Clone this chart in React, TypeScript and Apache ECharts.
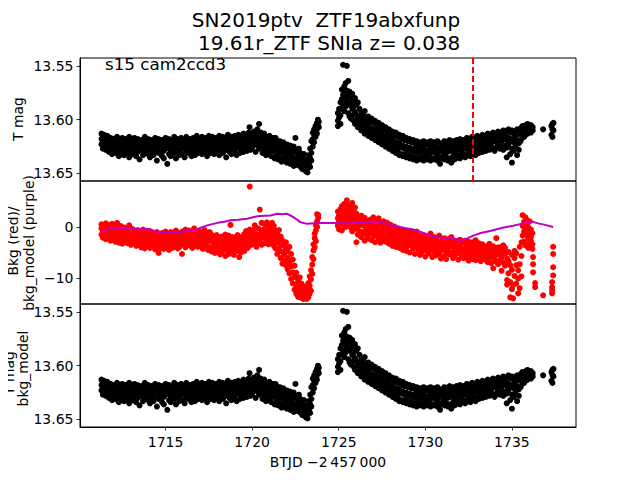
import React, { useEffect, useRef } from "react";
import * as echarts from "echarts";

// ---------- data ----------
const titleText = "SN2019ptv  ZTF19abxfunp\n 19.61r_ZTF SNIa z= 0.038";
const sectorLabel = "s15 cam2ccd3";
const xAxisLabel = "BTJD \u22122\u2009457\u2009000";

const xTicks = [1715, 1720, 1725, 1730, 1735];
const magTicks = [13.55, 13.6, 13.65];
const bkgTicks = [-10, 0];
const markerTime = 1732.73;

// rows: [time, mag, mag, ...]
const tMagOrbit1: number[][] = [
  [1711.3, 13.613, 13.618, 13.623], [1711.38, 13.616, 13.621, 13.627], [1711.46, 13.614, 13.624],
  [1711.55, 13.617, 13.62, 13.628], [1711.64, 13.615, 13.622, 13.626], [1711.73, 13.619, 13.625, 13.63],
  [1711.82, 13.617, 13.621], [1711.91, 13.62, 13.627, 13.632], [1712.0, 13.618, 13.623, 13.629],
  [1712.1, 13.622, 13.626, 13.631], [1712.2, 13.616, 13.624], [1712.3, 13.619, 13.628, 13.634],
  [1712.4, 13.621, 13.625, 13.63], [1712.5, 13.617, 13.623, 13.627], [1712.6, 13.62, 13.629, 13.633],
  [1712.7, 13.618, 13.622, 13.626], [1712.8, 13.621, 13.627, 13.631], [1712.9, 13.616, 13.624, 13.635],
  [1713.0, 13.619, 13.626, 13.629], [1713.1, 13.622, 13.625, 13.632], [1713.2, 13.617, 13.621, 13.628],
  [1713.3, 13.62, 13.627, 13.634], [1713.4, 13.618, 13.623, 13.63], [1713.5, 13.621, 13.626, 13.637],
  [1713.6, 13.619, 13.624, 13.628], [1713.7, 13.622, 13.629, 13.633], [1713.8, 13.616, 13.625, 13.631],
  [1713.9, 13.62, 13.623, 13.627], [1714.0, 13.618, 13.628, 13.632], [1714.1, 13.621, 13.626, 13.635],
  [1714.2, 13.619, 13.624, 13.63], [1714.3, 13.623, 13.627, 13.633], [1714.4, 13.617, 13.622, 13.629],
  [1714.5, 13.62, 13.628, 13.638], [1714.6, 13.618, 13.625, 13.631], [1714.7, 13.622, 13.626, 13.63],
  [1714.8, 13.619, 13.624, 13.634], [1714.9, 13.621, 13.629, 13.636], [1715.0, 13.617, 13.623, 13.627],
  [1715.1, 13.62, 13.626, 13.641], [1715.2, 13.618, 13.625, 13.632], [1715.3, 13.622, 13.628, 13.634],
  [1715.4, 13.619, 13.623, 13.629], [1715.5, 13.616, 13.627, 13.631], [1715.6, 13.621, 13.625, 13.636],
  [1715.7, 13.618, 13.622, 13.63], [1715.8, 13.62, 13.628, 13.633], [1715.9, 13.617, 13.624, 13.627],
  [1716.0, 13.622, 13.626, 13.632], [1716.1, 13.619, 13.623, 13.635], [1716.2, 13.616, 13.625, 13.629],
  [1716.3, 13.62, 13.627, 13.631], [1716.4, 13.618, 13.622, 13.628], [1716.5, 13.621, 13.626, 13.634],
  [1716.6, 13.617, 13.624, 13.63], [1716.7, 13.619, 13.628, 13.633], [1716.8, 13.615, 13.621, 13.627],
  [1716.9, 13.62, 13.625, 13.631], [1717.0, 13.618, 13.623, 13.629], [1717.1, 13.616, 13.626, 13.632],
  [1717.2, 13.619, 13.622, 13.628], [1717.3, 13.617, 13.625, 13.63], [1717.4, 13.62, 13.624, 13.634],
  [1717.5, 13.615, 13.621, 13.627], [1717.6, 13.618, 13.626, 13.631], [1717.7, 13.616, 13.623, 13.629],
  [1717.8, 13.619, 13.625, 13.632], [1717.9, 13.617, 13.621, 13.628], [1718.0, 13.62, 13.627, 13.63],
  [1718.1, 13.615, 13.624, 13.633], [1718.2, 13.618, 13.622, 13.627], [1718.3, 13.616, 13.625, 13.631],
  [1718.4, 13.619, 13.623, 13.629], [1718.5, 13.617, 13.626, 13.635], [1718.6, 13.614, 13.62, 13.628],
  [1718.7, 13.618, 13.624, 13.63], [1718.8, 13.616, 13.622, 13.632], [1718.9, 13.619, 13.625, 13.627],
  [1719.0, 13.615, 13.621, 13.629], [1719.1, 13.617, 13.624, 13.633], [1719.2, 13.614, 13.62, 13.626],
  [1719.3, 13.618, 13.623, 13.631], [1719.4, 13.616, 13.625, 13.628], [1719.5, 13.613, 13.619, 13.63],
  [1719.6, 13.617, 13.622, 13.627], [1719.7, 13.615, 13.62, 13.629], [1719.8, 13.612, 13.618, 13.625],
  [1719.85, 13.607], [1719.9, 13.616, 13.621, 13.628], [1720.0, 13.614, 13.619, 13.626],
  [1720.1, 13.611, 13.617, 13.623], [1720.2, 13.613, 13.62, 13.63], [1720.3, 13.609, 13.616, 13.624],
  [1720.4, 13.604, 13.618, 13.627], [1720.5, 13.612, 13.621, 13.625], [1720.6, 13.615, 13.619, 13.631],
  [1720.7, 13.613, 13.623, 13.628], [1720.8, 13.616, 13.621, 13.633], [1720.9, 13.618, 13.625, 13.63],
  [1721.0, 13.615, 13.622, 13.632], [1721.1, 13.619, 13.627, 13.634], [1721.2, 13.617, 13.624, 13.629],
  [1721.3, 13.621, 13.626, 13.636], [1721.35, 13.617], [1721.4, 13.619, 13.628, 13.633],
  [1721.5, 13.622, 13.626, 13.637], [1721.6, 13.62, 13.63, 13.635], [1721.7, 13.624, 13.628, 13.639],
  [1721.8, 13.621, 13.631, 13.636], [1721.9, 13.625, 13.629, 13.638], [1722.0, 13.623, 13.633, 13.64],
  [1722.1, 13.626, 13.63, 13.637], [1722.2, 13.624, 13.634, 13.641], [1722.3, 13.628, 13.632, 13.639],
  [1722.4, 13.625, 13.636, 13.643], [1722.5, 13.617, 13.63, 13.638], [1722.6, 13.629, 13.635, 13.642],
  [1722.7, 13.627, 13.633, 13.64], [1722.8, 13.631, 13.638, 13.644], [1722.9, 13.634, 13.641, 13.646],
  [1723.0, 13.632, 13.639, 13.645], [1723.1, 13.637, 13.643, 13.648], [1723.2, 13.64, 13.645, 13.649],
  [1723.28, 13.633, 13.641], [1723.35, 13.627, 13.636, 13.644], [1723.42, 13.62, 13.631, 13.638],
  [1723.5, 13.612, 13.618, 13.625], [1723.58, 13.609, 13.614, 13.621], [1723.66, 13.606, 13.611, 13.616],
  [1723.74, 13.603, 13.609, 13.613], [1723.8, 13.6, 13.605], [1723.85, 13.602, 13.607],
];

const tMagOrbit2: number[][] = [
  [1724.95, 13.594, 13.601, 13.606], [1725.02, 13.59, 13.598], [1725.1, 13.584, 13.596, 13.604],
  [1725.18, 13.572, 13.581, 13.59], [1725.25, 13.549, 13.577, 13.586], [1725.32, 13.569, 13.575, 13.592],
  [1725.4, 13.566, 13.58, 13.588], [1725.47, 13.55, 13.573, 13.583], [1725.55, 13.564, 13.578, 13.594],
  [1725.62, 13.574, 13.586, 13.597], [1725.7, 13.579, 13.584, 13.599], [1725.78, 13.576, 13.59, 13.596],
  [1725.86, 13.582, 13.588, 13.601], [1725.94, 13.58, 13.593, 13.604], [1726.02, 13.586, 13.596, 13.603],
  [1726.1, 13.584, 13.598, 13.607], [1726.2, 13.59, 13.601, 13.606], [1726.3, 13.594, 13.599, 13.61],
  [1726.4, 13.596, 13.604, 13.609], [1726.5, 13.592, 13.602, 13.613], [1726.6, 13.599, 13.607, 13.611],
  [1726.7, 13.597, 13.605, 13.615], [1726.8, 13.601, 13.61, 13.614], [1726.9, 13.599, 13.608, 13.617],
  [1727.0, 13.603, 13.612, 13.616], [1727.1, 13.601, 13.609, 13.619], [1727.2, 13.605, 13.614, 13.618],
  [1727.3, 13.603, 13.611, 13.621], [1727.4, 13.607, 13.616, 13.62], [1727.5, 13.605, 13.613, 13.623],
  [1727.6, 13.609, 13.618, 13.622], [1727.7, 13.607, 13.615, 13.625], [1727.8, 13.611, 13.62, 13.624],
  [1727.9, 13.609, 13.617, 13.627], [1728.0, 13.613, 13.621, 13.626], [1728.1, 13.611, 13.619, 13.629],
  [1728.2, 13.615, 13.623, 13.628], [1728.3, 13.612, 13.621, 13.631], [1728.4, 13.616, 13.625, 13.63],
  [1728.5, 13.614, 13.622, 13.633], [1728.6, 13.618, 13.626, 13.632], [1728.7, 13.615, 13.624, 13.634],
  [1728.8, 13.619, 13.627, 13.632], [1728.9, 13.617, 13.625, 13.635], [1729.0, 13.62, 13.628, 13.633],
  [1729.1, 13.618, 13.626, 13.636], [1729.2, 13.621, 13.629, 13.634], [1729.3, 13.619, 13.627, 13.637],
  [1729.4, 13.622, 13.63, 13.635], [1729.5, 13.62, 13.626, 13.638], [1729.6, 13.623, 13.631, 13.636],
  [1729.7, 13.621, 13.628, 13.637], [1729.8, 13.624, 13.63, 13.635], [1729.9, 13.62, 13.627, 13.638],
  [1730.0, 13.623, 13.632, 13.636], [1730.1, 13.621, 13.629, 13.637], [1730.2, 13.624, 13.628, 13.635],
  [1730.3, 13.62, 13.631, 13.638], [1730.4, 13.623, 13.627, 13.636], [1730.5, 13.621, 13.63, 13.637],
  [1730.6, 13.624, 13.628, 13.635], [1730.7, 13.62, 13.632, 13.638], [1730.85, 13.626, 13.641],
  [1730.9, 13.622, 13.629, 13.636], [1731.0, 13.624, 13.627, 13.634], [1731.1, 13.62, 13.631, 13.637],
  [1731.2, 13.623, 13.628, 13.635], [1731.3, 13.621, 13.63, 13.638], [1731.4, 13.619, 13.626, 13.636],
  [1731.5, 13.622, 13.629, 13.64], [1731.6, 13.62, 13.627, 13.634], [1731.7, 13.623, 13.63, 13.637],
  [1731.8, 13.619, 13.625, 13.635], [1731.9, 13.621, 13.628, 13.633], [1732.0, 13.618, 13.626, 13.636],
  [1732.1, 13.622, 13.629, 13.634], [1732.2, 13.619, 13.624, 13.632], [1732.3, 13.621, 13.627, 13.635],
  [1732.4, 13.617, 13.625, 13.633], [1732.5, 13.62, 13.628, 13.631], [1732.6, 13.618, 13.623, 13.634],
  [1732.7, 13.616, 13.626, 13.632], [1732.8, 13.619, 13.624, 13.63], [1732.9, 13.617, 13.622, 13.633],
  [1733.0, 13.615, 13.625, 13.629], [1733.1, 13.618, 13.621, 13.631], [1733.2, 13.616, 13.624, 13.628],
  [1733.3, 13.614, 13.622, 13.63], [1733.4, 13.617, 13.62, 13.627], [1733.5, 13.615, 13.623, 13.629],
  [1733.6, 13.613, 13.621, 13.626], [1733.7, 13.616, 13.619, 13.628], [1733.8, 13.614, 13.622, 13.625],
  [1733.9, 13.612, 13.62, 13.627], [1734.0, 13.615, 13.618, 13.629], [1734.1, 13.613, 13.621, 13.626],
  [1734.2, 13.611, 13.619, 13.624], [1734.3, 13.614, 13.617, 13.627], [1734.4, 13.612, 13.62, 13.625],
  [1734.5, 13.61, 13.618, 13.628], [1734.6, 13.613, 13.616, 13.624], [1734.7, 13.611, 13.619, 13.626, 13.635],
  [1734.8, 13.609, 13.617, 13.623], [1734.9, 13.612, 13.62, 13.632], [1735.0, 13.61, 13.618, 13.627, 13.64],
  [1735.1, 13.613, 13.621, 13.629], [1735.2, 13.611, 13.616, 13.625], [1735.3, 13.609, 13.619, 13.633],
  [1735.4, 13.612, 13.622, 13.628], [1735.5, 13.608, 13.614, 13.62], [1735.6, 13.606, 13.611, 13.617],
  [1735.7, 13.607, 13.613, 13.616], [1735.8, 13.605, 13.609, 13.614], [1735.9, 13.604, 13.61, 13.613],
  [1736.0, 13.606, 13.611], [1736.1, 13.605, 13.609, 13.612], [1736.2, 13.607, 13.61], [1736.8, 13.609],
  [1737.28, 13.606, 13.614], [1737.34, 13.604, 13.609, 13.616], [1737.4, 13.603, 13.61],
];

// the background-corrected magnitude looks the same as T mag in the reference
const correctedOrbit1 = tMagOrbit1;
const correctedOrbit2 = tMagOrbit2;

// rows: [time, bkg, bkg, ...]
const bkgOrbit1: number[][] = [
  [1711.3, -1.4, -0.2, 0.6], [1711.38, -0.8, -2.0], [1711.46, -1.6, 0.3, -0.5], [1711.55, -1.1, -2.3, 0.8],
  [1711.64, -0.4, -1.7, 0.1], [1711.73, -1.9, -0.9, 0.5], [1711.82, -0.2, -1.3, -2.6], [1711.91, -1.0, 0.7, -1.8],
  [1712.0, -2.1, -0.6, 0.2], [1712.1, -1.5, -0.1, -2.8], [1712.2, -0.8, -2.2, 0.9], [1712.3, -1.8, -0.4, -3.0],
  [1712.4, -2.5, -1.1, 0.3], [1712.5, -0.7, -1.9, -3.2], [1712.6, -2.7, -1.3, 0.0], [1712.7, -1.6, -0.5, -2.4],
  [1712.8, -3.1, -2.0, -0.8], [1712.9, -1.2, -2.6, 0.4], [1713.0, -2.3, -3.4, -0.9], [1713.1, -1.4, -0.3, -2.8],
  [1713.2, -3.0, -1.8, -0.6], [1713.3, -2.1, -3.6, -1.0], [1713.4, -0.5, -2.5, -1.5], [1713.5, -3.3, -1.9, -0.8],
  [1713.6, -2.4, -1.2, -3.9], [1713.7, -1.6, -3.0, -0.4], [1713.8, -2.8, -4.1, -1.3], [1713.9, -1.9, -0.9, -3.3],
  [1714.0, -3.6, -2.2, -1.1], [1714.1, -2.6, -4.0, -0.7], [1714.2, -1.5, -3.2, -2.1], [1714.3, -3.8, -2.4, -1.2],
  [1714.4, -2.9, -1.6, -4.3], [1714.5, -2.0, -3.5, -0.9], [1714.6, -5.0, -2.7, -1.4], [1714.7, -3.1, -1.8, -4.0],
  [1714.8, -2.3, -3.7, -1.1], [1714.9, -1.5, -4.2, -2.8], [1715.0, -3.4, -2.1, -0.8], [1715.1, -2.5, -3.9, -1.6],
  [1715.2, -4.4, -1.9, -3.0], [1715.3, -2.2, -3.3, -0.9], [1715.4, -1.4, -2.8, -4.0], [1715.5, -3.6, -2.4, -1.1],
  [1715.6, -2.0, -3.1, -0.6], [1715.7, -4.1, -1.7, -2.6], [1715.8, -2.9, -3.8, -1.3], [1715.95, -5.2, -2.2, -0.8],
  [1716.05, -3.3, -1.5, -2.7], [1716.15, -2.0, -3.9, -0.4], [1716.25, -1.2, -2.8, -3.5], [1716.35, -3.0, -0.6, -2.1],
  [1716.45, -1.8, -3.6, -0.9], [1716.55, -2.5, -1.3, -4.0], [1716.65, -3.4, -0.2, -2.0], [1716.75, -1.6, -2.9, -0.7],
  [1716.85, -3.8, -2.3, -1.1], [1716.95, -2.6, -0.8, -3.3], [1717.05, -1.9, -3.7, -1.0], [1717.15, -3.2, -2.2, -4.2],
  [1717.25, -1.3, -2.7, -0.5], [1717.35, -3.5, -1.8, -2.9], [1717.45, -2.4, -4.4, -1.2], [1717.55, -3.9, -2.0, -0.9],
  [1717.65, -2.8, -1.4, -4.7], [1717.75, -4.2, -3.0, -1.7], [1717.85, -2.1, -3.6, -5.0], [1717.95, -3.3, -1.5, -4.1],
  [1718.05, -4.6, -2.6, -1.9], [1718.15, -3.0, -5.3, -2.2], [1718.25, -1.8, -3.9, -4.8], [1718.35, -4.3, -2.5, -3.4],
  [1718.45, -2.9, -5.6, -1.4], [1718.55, -3.7, -2.2, -4.5], [1718.65, -5.2, -3.1, -1.6], [1718.75, -2.6, -4.0, 0.5],
  [1718.85, -4.7, -3.3, -1.9], [1718.95, -3.5, -5.4, -2.4], [1719.05, -2.1, -4.1, -3.0], [1719.15, -4.6, -2.8, -1.5],
  [1719.25, -3.3, -5.8, -2.2], [1719.35, -1.9, -3.8, -4.9], [1719.45, -4.2, -2.5, -3.1], [1719.55, -2.8, -1.3, -4.6],
  [1719.65, -3.6, -2.0, -0.7], [1719.75, -1.6, -3.1, -4.0], [1719.86, 8.0, -2.3, -0.4], [1719.95, -3.4, -1.1, -2.5],
  [1720.05, -0.6, -2.8, -1.7], [1720.15, -3.2, -1.9, 0.4], [1720.25, -1.3, -3.8, -2.4], [1720.35, -0.2, -2.2, -3.0],
  [1720.44, 3.5, -1.5, -2.7], [1720.55, -0.9, 0.9, -3.4], [1720.65, -2.0, -0.4, -1.3], [1720.75, -3.1, 0.6, -1.8],
  [1720.85, -0.7, -2.5, 1.0], [1720.95, -1.6, -3.3, 0.2], [1721.05, -0.3, -2.1, -1.2], [1721.15, -2.8, 0.9, -1.5],
  [1721.25, -1.0, -3.6, 0.3], [1721.35, -2.2, -0.6, -4.1], [1721.45, -1.4, -3.0, -5.2], [1721.55, -0.5, -2.4, -4.4],
  [1721.65, -3.6, -6.0, -1.8], [1721.75, -2.6, -4.8, -7.1], [1721.85, -5.3, -3.4, -6.5], [1721.95, -4.1, -7.4, -2.9],
  [1722.05, -6.0, -4.7, -8.2], [1722.15, -3.8, -6.8, -9.0], [1722.25, -7.6, -5.2, -10.1], [1722.35, -8.8, -6.3, -11.0],
  [1722.45, -9.7, -7.5, -12.2], [1722.55, -11.3, -8.9, -13.0], [1722.65, -10.4, -12.6, -13.6],
  [1722.75, -11.8, -13.2, -9.8], [1722.85, -12.9, -13.8, -11.0], [1722.95, -13.5, -12.3, -14.0],
  [1723.05, -13.9, -12.8, -11.6], [1723.15, -13.2, -14.0, -12.1], [1723.25, -12.5, -13.7, -10.9],
  [1723.32, -11.4, -13.0, -9.6], [1723.4, -10.2, -8.4, -12.4], [1723.47, -7.3, -9.1, -5.8],
  [1723.54, -4.5, -6.2, -3.3], [1723.61, -2.1, -3.9, -1.2], [1723.68, -0.6, 0.4, -2.7],
  [1723.75, 1.2, 2.6, 0.1], [1723.82, 1.9, 2.4],
];

const bkgOrbit2: number[][] = [
  [1724.95, 0.3, 1.8, 3.1], [1725.02, -0.4, 2.4, 1.1], [1725.1, 0.9, 3.6, 2.0], [1725.18, 1.6, -0.6, 4.2],
  [1725.25, 2.8, 0.5, 3.7], [1725.32, 1.2, 4.6, 2.3], [1725.4, 3.3, 0.1, 1.9], [1725.47, 5.3, 2.6, 4.1],
  [1725.55, 0.8, 3.4, 2.0], [1725.62, 4.4, 1.5, 2.9], [1725.7, 0.0, 3.8, 1.9], [1725.78, 2.5, -0.8, 4.8],
  [1725.86, 1.3, 3.1, 0.4], [1725.94, 2.2, -0.3, 3.9], [1726.02, -2.9, 1.0, 2.7], [1726.1, 0.3, 2.1, -1.4],
  [1726.2, 1.6, -0.7, 0.8], [1726.3, -1.9, 0.5, 2.3], [1726.4, 0.9, -0.9, 1.4], [1726.5, -2.6, 0.2, 1.9],
  [1726.6, 1.1, -1.5, -0.2], [1726.7, -0.6, 0.7, -2.2], [1726.8, 1.5, -1.1, 0.3], [1726.9, -0.4, -2.5, 1.0],
  [1727.0, 0.8, -1.7, 2.0], [1727.1, -0.9, 0.4, -2.9], [1727.2, 1.3, -0.5, -1.6], [1727.3, -2.2, 0.2, 1.8],
  [1727.4, -0.8, -3.0, 0.9], [1727.5, 0.6, -1.4, -2.4], [1727.6, -1.9, 0.0, 1.2], [1727.7, -0.5, -2.8, 0.4],
  [1727.8, -2.3, -1.1, 0.9], [1727.9, -0.3, -3.2, -1.6], [1728.0, -2.0, 0.5, -1.0], [1728.1, -3.6, -0.8, -2.4],
  [1728.2, -1.3, -2.9, 0.2], [1728.3, -3.8, -1.9, -0.6], [1728.4, -2.5, -0.2, -3.3], [1728.5, -1.1, -4.0, -2.0],
  [1728.6, -3.0, -0.9, -1.7], [1728.7, -2.2, -4.4, -0.5], [1728.8, -1.5, -3.5, -2.7], [1728.9, -3.9, -1.2, -4.6],
  [1729.0, -2.4, -0.7, -3.2], [1729.1, -1.8, -4.9, -2.9], [1729.2, -3.6, -2.0, -0.9], [1729.3, -2.6, -4.1, -1.4],
  [1729.4, -5.2, -3.0, -1.9], [1729.5, -2.1, -3.8, -0.8], [1729.6, -4.4, -2.7, -1.6], [1729.7, -3.2, -5.4, -2.2],
  [1729.8, -1.7, -3.9, -4.8], [1729.9, -4.2, -2.5, -3.4], [1730.0, -2.9, -5.7, -1.8], [1730.1, -3.7, -2.2, -4.6],
  [1730.2, -5.1, -3.1, -2.0], [1730.3, -2.6, -4.3, -1.2], [1730.4, -3.5, -5.8, -2.4], [1730.5, -4.7, -3.0, -1.9],
  [1730.6, -2.3, -4.1, -5.5], [1730.7, -3.8, -2.7, -4.9], [1730.8, -5.2, -3.3, -1.6], [1730.9, -2.9, -4.5, -6.1],
  [1731.0, -4.0, -2.4, -3.6], [1731.1, -5.6, -3.2, -2.1], [1731.2, -3.1, -4.8, -6.2], [1731.3, -4.4, -2.8, -3.9],
  [1731.4, -2.2, -5.3, -3.4], [1731.5, -4.9, -3.7, -1.9], [1731.6, -3.3, -6.0, -2.6], [1731.7, -5.5, -4.2, -3.0],
  [1731.8, -2.7, -3.8, -5.1], [1731.9, -4.6, -6.3, -3.2], [1732.0, -3.5, -2.4, -5.0], [1732.1, -5.8, -4.1, -2.9],
  [1732.2, -3.0, -4.7, -6.0], [1732.3, -4.3, -2.6, -5.4], [1732.4, -5.9, -3.6, -4.5], [1732.5, -2.8, -5.1, -6.5],
  [1732.6, -4.0, -3.2, -5.7], [1732.7, -6.2, -4.6, -2.9], [1732.8, -3.4, -5.3, -4.1], [1732.9, -4.9, -6.4, -2.5],
  [1733.0, -3.7, -5.0, -6.0], [1733.1, -5.5, -4.2, -3.1], [1733.2, -3.9, -6.6, -4.8], [1733.3, -5.2, -3.3, -6.1],
  [1733.4, -4.5, -5.8, -3.8], [1733.5, -6.3, -4.0, -5.1], [1733.6, -3.6, -5.4, -6.8], [1733.7, -4.8, -6.0, -3.2],
  [1733.8, -5.6, -4.3, -7.0], [1733.92, -8.0, -5.0, -3.7], [1734.0, -6.2, -4.6, -5.5], [1734.1, -4.1, -6.7, -2.1],
  [1734.2, -5.3, -3.9, -7.2], [1734.3, -6.5, -4.4, -5.0], [1734.4, -3.8, -8.5, -5.9], [1734.5, -6.9, -4.7, -3.5],
  [1734.6, -5.2, -7.5, -4.0], [1734.72, -10.3, -6.1, -11.2], [1734.8, -4.8, -9.0, -6.6],
  [1734.9, -13.7, -7.4, -10.7], [1735.0, -5.4, -12.1, -8.3], [1735.07, -13.9, -11.3], [1735.15, -6.0, -9.5, -4.6],
  [1735.25, -7.4, -11.0, -5.1], [1735.36, -12.9, -10.0, -8.4], [1735.45, -11.9, -7.2, -3.8],
  [1735.55, -9.6, -5.6, -2.9], [1735.62, 2.4, 0.3, -1.6], [1735.7, 1.1, -0.8, -2.8], [1735.78, 2.0, -0.2, -3.5],
  [1735.86, 0.6, -1.5, 1.4], [1735.94, -2.2, 0.0, -4.0], [1736.02, -0.9, 1.2, -3.1], [1736.1, -1.8, -0.4, -2.6],
  [1736.18, -3.3, -1.1, -4.2], [1736.22, -5.8, -7.2, -8.8], [1736.34, -10.9, -11.7], [1736.8, -13.3],
  [1737.32, -10.7, -11.7, -12.3, -12.9], [1737.38, -3.8, -5.2, -7.8, -9.4],
];

const bkgModel: number[][] = [
  [1711.35, -0.6], [1711.8, -0.3], [1712.4, 0.0], [1712.9, -0.2], [1713.4, -0.4], [1713.95, -0.3],
  [1714.5, -0.8], [1715.1, -1.05], [1715.5, -1.0], [1715.9, -0.8], [1716.4, -0.6], [1716.85, -0.3],
  [1717.4, 0.4], [1718.0, 0.9], [1718.4, 1.1], [1718.75, 1.4], [1719.2, 1.5], [1719.7, 1.7],
  [1720.3, 2.2], [1720.7, 2.3], [1721.06, 2.35], [1721.45, 2.7], [1721.7, 2.6], [1722.0, 2.7],
  [1722.4, 2.0], [1722.8, 1.0], [1723.17, 0.7], [1723.6, 0.8], [1724.1, 0.85], [1724.7, 0.85],
  [1725.2, 0.8], [1725.67, 0.8], [1726.2, 0.9], [1726.7, 1.0], [1727.2, 1.15], [1727.7, 0.8],
  [1728.27, 0.3], [1728.8, -0.1], [1729.3, -0.4], [1729.9, -1.1], [1730.46, -1.8], [1731.0, -2.0],
  [1731.5, -2.0], [1732.0, -2.5], [1732.4, -2.2], [1732.76, -1.6], [1733.2, -1.1], [1733.74, -0.7],
  [1734.4, -0.1], [1735.07, 0.35], [1735.65, 0.8], [1736.2, 1.15], [1736.5, 0.8], [1736.8, 0.6],
  [1737.38, 0.1],
];

// ---------- helpers ----------
const toPoints = (rows: number[][]) =>
  rows.flatMap(([t, ...vals]) => vals.map((v) => [t, v]));

const FONT = "DejaVu Sans";
const X_MIN = 1710.06;
const X_MAX = 1738.7;

const vText = (text: string, x: number, y: number) => ({
  type: "text",
  x,
  y,
  rotation: Math.PI / 2,
  style: {
    text,
    fontFamily: FONT,
    fontSize: 13.9,
    fill: "#000",
    textAlign: "center",
    textVerticalAlign: "middle",
  },
});

export default function App() {
  const ref = useRef<HTMLDivElement>(null);

  useEffect(() => {
    if (!ref.current) return;
    const chart = echarts.init(ref.current, null, { renderer: "svg" });

    const gridBase = {
      left: 80,
      width: 496,
      height: 123,
      show: true,
      borderColor: "#000",
      borderWidth: 1,
      backgroundColor: "transparent",
    };

    const xAxisBase = (gridIndex: number, showLabels: boolean) => ({
      type: "value",
      gridIndex,
      min: X_MIN,
      max: X_MAX,
      axisLine: { show: showLabels, lineStyle: { color: "#000", width: 1 } },
      splitLine: { show: false },
      axisTick: {
        show: showLabels,
        inside: false,
        length: 3.5,
        customValues: xTicks,
        lineStyle: { color: "#000", width: 0.8 },
      },
      axisLabel: {
        show: showLabels,
        customValues: xTicks,
        margin: 8,
        color: "#000",
        fontFamily: FONT,
        fontSize: 14,
        formatter: (v: number) => String(Math.round(v)),
      },
    });

    const magAxis = (gridIndex: number) => ({
      type: "value",
      gridIndex,
      inverse: true,
      min: 13.5427,
      max: 13.657,
      axisLine: { show: true, lineStyle: { color: "#000", width: 1 } },
      splitLine: { show: false },
      axisTick: {
        show: true,
        inside: false,
        length: 3.5,
        customValues: magTicks,
        lineStyle: { color: "#000", width: 0.8 },
      },
      axisLabel: {
        customValues: magTicks,
        margin: 6.5,
        color: "#000",
        fontFamily: FONT,
        fontSize: 14,
        formatter: (v: number) => v.toFixed(2),
      },
    });

    const hiddenAxis = (gridIndex: number, min: number, max: number) => ({
      type: "value",
      gridIndex,
      min,
      max,
      show: false,
    });

    const option: any = {
      animation: false,
      backgroundColor: "#fff",
      grid: [
        { ...gridBase, top: 58 },
        { ...gridBase, top: 181 },
        { ...gridBase, top: 304 },
        { left: 80, width: 496, height: 123, top: 181, show: false },
      ],
      xAxis: [
        xAxisBase(0, false),
        xAxisBase(1, false),
        xAxisBase(2, true),
        hiddenAxis(3, X_MIN, X_MAX),
      ],
      yAxis: [
        magAxis(0),
        {
          type: "value",
          gridIndex: 1,
          min: -15.0,
          max: 9.1,
          axisLine: { show: true, lineStyle: { color: "#000", width: 1 } },
          splitLine: { show: false },
          axisTick: {
            show: true,
            inside: false,
            length: 3.5,
            customValues: bkgTicks,
            lineStyle: { color: "#000", width: 0.8 },
          },
          axisLabel: {
            customValues: bkgTicks,
            margin: 6.5,
            color: "#000",
            fontFamily: FONT,
            fontSize: 14,
            formatter: (v: number) => (v < 0 ? "\u2212" + Math.abs(v) : String(v)),
          },
        },
        magAxis(2),
        hiddenAxis(3, -15.0, 9.1),
      ],
      series: [
        {
          type: "scatter",
          xAxisIndex: 0,
          yAxisIndex: 0,
          z: 2,
          data: toPoints(tMagOrbit1).concat(toPoints(tMagOrbit2)),
          symbolSize: 6,
          itemStyle: { color: "#000", opacity: 1 },
          silent: true,
          markLine: {
            silent: true,
            symbol: ["none", "none"],
            label: { show: false },
            lineStyle: { color: "#ff0000", type: [6, 3], width: 2 },
            data: [{ xAxis: markerTime }],
            z: 10,
          },
        },
        {
          type: "scatter",
          xAxisIndex: 1,
          yAxisIndex: 1,
          z: 1,
          data: toPoints(bkgOrbit1).concat(toPoints(bkgOrbit2)),
          symbolSize: 6,
          itemStyle: { color: "#ff0000", opacity: 1 },
          silent: true,
        },
        {
          type: "scatter",
          xAxisIndex: 2,
          yAxisIndex: 2,
          z: 2,
          data: toPoints(correctedOrbit1).concat(toPoints(correctedOrbit2)),
          symbolSize: 6,
          itemStyle: { color: "#000", opacity: 1 },
          silent: true,
        },
        {
          type: "line",
          xAxisIndex: 3,
          yAxisIndex: 3,
          data: bkgModel,
          showSymbol: false,
          symbol: "none",
          lineStyle: { color: "#bf00bf", width: 2 },
          z: 20,
          zlevel: 1,
          silent: true,
        },
      ],
      graphic: [
        {
          type: "text",
          x: 326,
          y: 31,
          style: {
            text: titleText,
            fontFamily: FONT,
            fontSize: 20,
            lineHeight: 23,
            fill: "#000",
            textAlign: "center",
            textVerticalAlign: "middle",
          },
        },
        {
          type: "text",
          x: 105,
          y: 64,
          z: 30,
          style: {
            text: sectorLabel,
            fontFamily: FONT,
            fontSize: 16.7,
            fill: "#000",
            textAlign: "left",
            textVerticalAlign: "middle",
          },
        },
        {
          type: "text",
          x: 328,
          y: 462,
          style: {
            text: xAxisLabel,
            fontFamily: FONT,
            fontSize: 13.9,
            fill: "#000",
            textAlign: "center",
            textVerticalAlign: "middle",
          },
        },
        vText("T mag", 18, 119),
        vText("Bkg (red)/", 13, 241),
        vText("bkg_model (purple)", 29, 243),
        vText("T mag", 8.5, 373),
        vText("bkg_model", 23, 368.5),
      ],
    };

    chart.setOption(option);
    return () => chart.dispose();
  }, []);

  return <div ref={ref} style={{ width: 640, height: 480, margin: -8 }} />;
}
